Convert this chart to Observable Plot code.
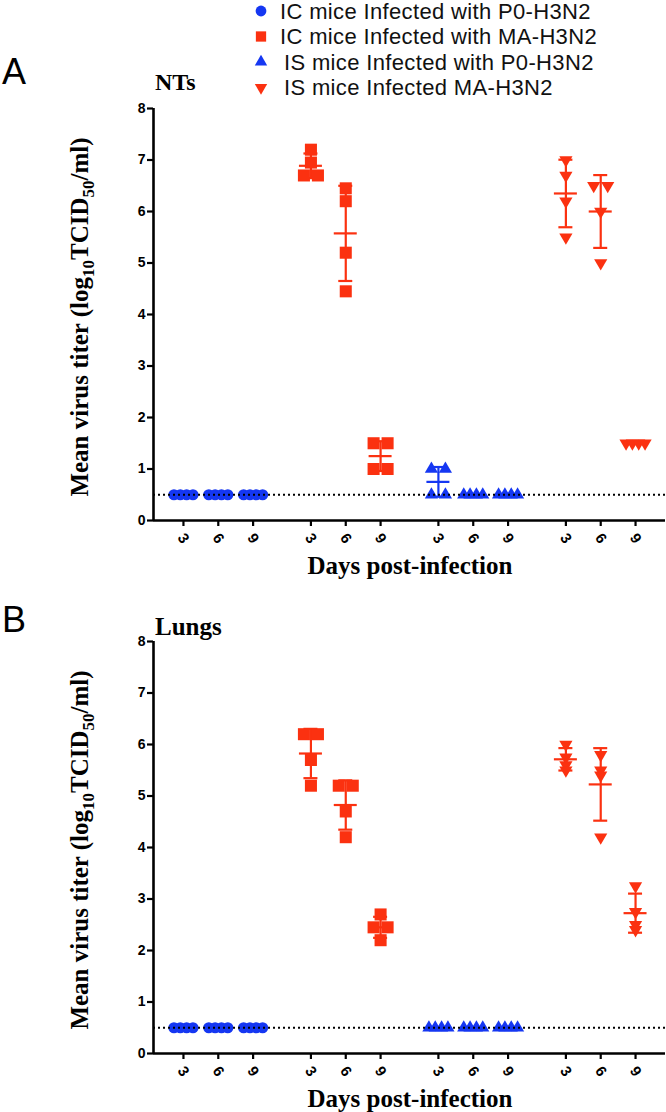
<!DOCTYPE html>
<html><head><meta charset="utf-8">
<script src="https://cdn.jsdelivr.net/npm/d3@7"></script>
<script src="https://cdn.jsdelivr.net/npm/@observablehq/plot@0.6"></script>
<style>
body{margin:0;background:#fff;}
#wrap{position:relative;width:666px;height:1112px;overflow:hidden;background:#fff;}
#wrap > *{position:absolute;}
</style></head><body><div id="wrap"></div>
<script>
// ---------------- data ----------------
const days = [3, 6, 9];
const groupNames = [
  "IC mice Infected with P0-H3N2",
  "IC mice Infected with MA-H3N2",
  "IS mice Infected with P0-H3N2",
  "IS mice Infected MA-H3N2"
];
const tickLabels = ["3","6","9","3","6","9","3","6","9","3","6","9"];
const yTicks = [0,1,2,3,4,5,6,7,8];
const detectionLimit = 0.5;

// NTs (panel A): one array per group, one inner list per day (3, 6, 9)
const ntsIcP0 = [[0.5,0.5,0.5,0.5],[0.5,0.5,0.5,0.5],[0.5,0.5,0.5,0.5]];
const ntsIcMa = [[7.2,6.95,6.7,6.7],[6.45,6.2,5.2,4.45],[1.5,1.5,1.0,1.0]];
const ntsIsP0 = [[1.0,1.0,0.5,0.5],[0.5,0.5,0.5,0.5],[0.5,0.5,0.5,0.5]];
const ntsIsMa = [[7.0,6.7,6.2,5.5],[6.5,6.5,6.0,5.0],[1.5,1.5,1.5,1.5]];
// Lungs (panel B)
const lungIcP0 = [[0.5,0.5,0.5,0.5],[0.5,0.5,0.5,0.5],[0.5,0.5,0.5,0.5]];
const lungIcMa = [[6.2,6.2,5.7,5.2],[5.2,5.2,4.7,4.2],[2.7,2.45,2.45,2.2]];
const lungIsP0 = [[0.5,0.5,0.5,0.5],[0.5,0.5,0.5,0.5],[0.5,0.5,0.5,0.5]];
const lungIsMa = [[6.0,5.75,5.6,5.5],[5.8,5.5,5.4,4.2],[3.25,2.75,2.5,2.4]];

// ---------------- styling / layout ----------------
const BLUE = "#1537f2", RED = "#fb3110";
const groupColors = [BLUE, RED, BLUE, RED];
const triDown = {
  draw(ctx, size) {
    const y = -Math.sqrt(size / (Math.sqrt(3) * 3));
    ctx.moveTo(0, -y * 2);
    ctx.lineTo(-Math.sqrt(3) * y, y);
    ctx.lineTo(Math.sqrt(3) * y, y);
    ctx.closePath();
  }
};
const groupSymbols = ["circle", "square", "triangle", triDown];
const groupR = [5.6, 6.8, 4.9, 4.9];
const GROUP_GAP = 3.66;
const xDomain = [-0.86, 3 * GROUP_GAP + 2 + 0.86];
const W = 666, ML = 153, MR = 1;
const pxPerUnit = (W - ML - MR) / (xDomain[1] - xDomain[0]);
const SERIF = "'Liberation Serif','Times New Roman',Times,serif";
const SANS = "'Liberation Sans',Arial,Helvetica,sans-serif";

const tickPositions = [];
groupNames.forEach((g, gi) => days.forEach((d, di) => tickPositions.push(gi * GROUP_GAP + di)));

function buildRows(series) {
  const rows = [], stats = [];
  series.forEach((byDay, gi) => byDay.forEach((vals, di) => {
    const cx = gi * GROUP_GAP + di;
    // spread exactly tied values symmetrically
    const counts = d3.rollup(vals, v => v.length, v => v);
    const seen = new Map();
    vals.forEach(v => {
      const n = counts.get(v), k = seen.get(v) || 0; seen.set(v, k + 1);
      const step = n > 1 ? Math.min(14, 19 / (n - 1)) : 0;
      rows.push({g: gi, x: cx + (k - (n - 1) / 2) * step / pxPerUnit, v});
    });
    const m = d3.mean(vals), sd = d3.deviation(vals) || 0;
    stats.push({g: gi, x: cx, mean: m, lo: m - sd, hi: m + sd, sd});
  }));
  return {rows, stats};
}

function makePanel(series, cfg) {
  const {rows, stats} = buildRows(series);
  const meanHalf = 11.5 / pxPerUnit, capHalf = 7 / pxPerUnit;
  const marks = [];
  groupNames.forEach((name, gi) => {
    const col = groupColors[gi];
    const st = stats.filter(d => d.g === gi);
    const sv = st.filter(d => d.sd > 0);
    marks.push(
      Plot.ruleY(st, {x1: d => d.x - meanHalf, x2: d => d.x + meanHalf, y: "mean", stroke: col, strokeWidth: 2.2}),
      Plot.ruleX(sv, {x: "x", y1: "lo", y2: "hi", stroke: col, strokeWidth: 2.2}),
      Plot.ruleY(sv, {x1: d => d.x - capHalf, x2: d => d.x + capHalf, y: "hi", stroke: col, strokeWidth: 2.2}),
      Plot.ruleY(sv, {x1: d => d.x - capHalf, x2: d => d.x + capHalf, y: "lo", stroke: col, strokeWidth: 2.2}),
      Plot.dot(rows.filter(d => d.g === gi), {x: "x", y: "v", symbol: groupSymbols[gi], r: groupR[gi], fill: col, stroke: "none"})
    );
  });
  marks.push(
    Plot.ruleY([detectionLimit], {stroke: "#000", strokeWidth: 2, strokeDasharray: "2,3"}),
    Plot.axisY({ticks: yTicks, tickSize: 6, tickPadding: 2, fontSize: 14, fontWeight: "bold", strokeWidth: 2.2, label: null, fill: "#000"}),
    Plot.axisX({ticks: tickPositions, tickSize: 6, tickFormat: () => "", strokeWidth: 2.2, label: null}),
    Plot.text(tickPositions, {x: d => d, text: (d, i) => tickLabels[i], frameAnchor: "bottom", dy: 18, rotate: 55,
      fontSize: 15, fontWeight: "bold", textAnchor: "middle", lineAnchor: "middle", fill: "#000"}),
    Plot.ruleX([xDomain[0]], {y1: 0, y2: 8, strokeWidth: 2.6, stroke: "#000"}),
    Plot.ruleY([0], {strokeWidth: 2.6, stroke: "#000"})
  );
  const svg = Plot.plot({
    width: W, height: cfg.height,
    marginLeft: ML, marginRight: MR, marginTop: cfg.mt, marginBottom: cfg.mb,
    x: {domain: xDomain, axis: null},
    y: {domain: [0, 8], axis: null},
    style: {fontFamily: SANS, background: "transparent", overflow: "visible"},
    marks
  });
  const s = d3.select(svg);
  const y0 = cfg.height - cfg.mb, y8 = cfg.mt;
  // y-axis title with subscripts
  const t = s.append("text")
    .attr("transform", `translate(88,${(y0 + y8) / 2 + 3}) rotate(-90)`)
    .attr("text-anchor", "middle").attr("font-family", SERIF).attr("font-weight", "bold")
    .attr("font-size", 25).attr("fill", "#000");
  t.append("tspan").text("Mean virus titer (log");
  t.append("tspan").attr("font-size", 17).attr("dy", 6).text("10");
  t.append("tspan").attr("dy", -6).text("TCID");
  t.append("tspan").attr("font-size", 17).attr("dy", 6).text("50");
  t.append("tspan").attr("dy", -6).text("/ml)");
  // x-axis title
  s.append("text").attr("x", 410).attr("y", y0 + 54).attr("text-anchor", "middle")
    .attr("font-family", SERIF).attr("font-weight", "bold").attr("font-size", 25).attr("fill", "#000")
    .text("Days post-infection");
  // panel sub-title
  s.append("text").attr("x", 155).attr("y", cfg.subY).attr("text-anchor", "start")
    .attr("font-family", SERIF).attr("font-weight", "bold")
    .attr("font-size", cfg.subSize).attr("fill", "#000").text(cfg.sub);
  // panel letter
  s.append("text").attr("x", 2).attr("y", cfg.letterY).attr("text-anchor", "start")
    .attr("font-family", SANS).attr("font-size", 36).attr("fill", "#000").text(cfg.letter);
  return svg;
}

const wrap = document.getElementById("wrap");
const svgA = makePanel([ntsIcP0, ntsIcMa, ntsIsP0, ntsIsMa],
  {height: 590, mt: 108, mb: 70, sub: "NTs", subY: 90, subSize: 24, letter: "A", letterY: 84});
svgA.style.top = "0px"; svgA.style.left = "0px";
wrap.appendChild(svgA);
const svgB = makePanel([lungIcP0, lungIcMa, lungIsP0, lungIsMa],
  {height: 522, mt: 51, mb: 59, sub: "Lungs", subY: 45, subSize: 25, letter: "B", letterY: 42});
svgB.style.top = "590px"; svgB.style.left = "0px";
wrap.appendChild(svgB);

// ---------------- legend ----------------
const leg = d3.select(wrap).append("svg").attr("width", 420).attr("height", 100)
  .style("left", "240px").style("top", "0px").style("overflow", "visible");
groupNames.forEach((name, gi) => {
  const cy = 11 + gi * 25.5;
  const sym = gi === 3 ? triDown : gi === 0 ? d3.symbolCircle : gi === 1 ? d3.symbolSquare : d3.symbolTriangle;
  const size = Math.PI * [5.4, 5.8, 4.6, 4.6][gi] ** 2;
  leg.append("path").attr("d", d3.symbol(sym, size)()).attr("transform", `translate(21,${cy})`)
    .attr("fill", groupColors[gi]);
  leg.append("text").attr("x", gi < 2 ? 40 : 44).attr("y", cy).attr("dy", "0.36em")
    .attr("font-family", SANS).attr("font-size", 22).attr("letter-spacing", 0.35)
    .attr("fill", "#111").text(name);
});
</script></body></html>
